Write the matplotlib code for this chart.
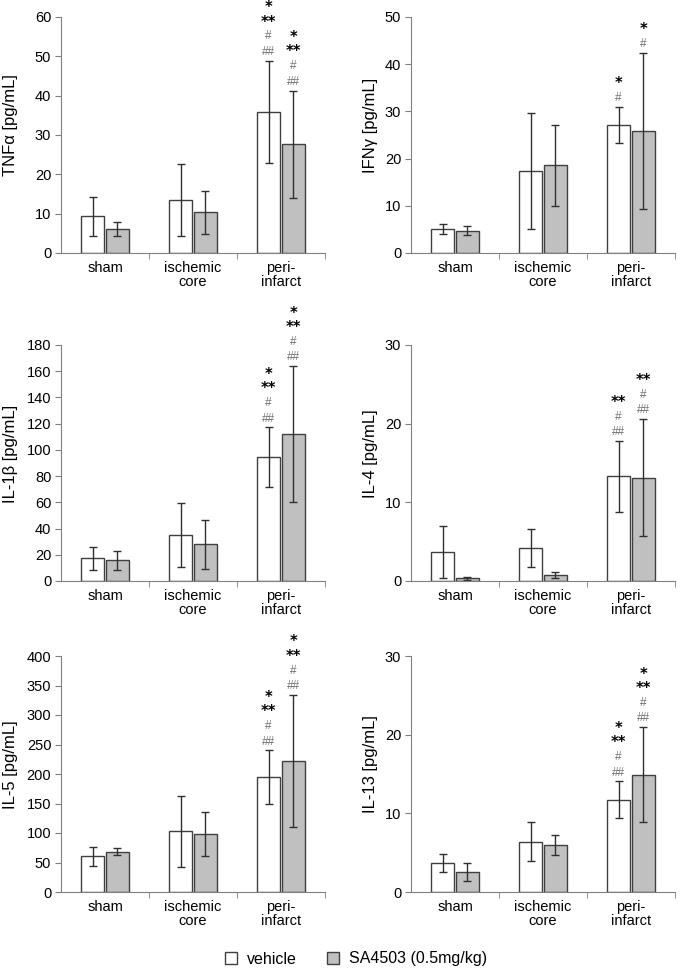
import matplotlib.pyplot as plt
from matplotlib.patches import Patch
import numpy as np

plt.rcParams['font.family'] = ['Liberation Sans', 'DejaVu Sans']

# categories and groups
categories = ["sham", "ischemic\ncore", "peri-\ninfarct"]
groups = ["vehicle", "SA4503 (0.5mg/kg)"]

# per panel: label, axis max, tick step
labels = ["TNF\u03b1 [pg/mL]", "IFN\u03b3 [pg/mL]", "IL-1\u03b2 [pg/mL]",
          "IL-4 [pg/mL]", "IL-5 [pg/mL]", "IL-13 [pg/mL]"]
ymax = [60, 50, 180, 30, 400, 30]
ystep = [10, 10, 20, 10, 50, 10]

tnf_veh = [9.3, 13.5, 35.9]
tnf_veh_err = [4.9, 9.1, 13.0]
tnf_sa = [6.1, 10.3, 27.6]
tnf_sa_err = [1.9, 5.4, 13.7]

ifn_veh = [5.1, 17.3, 27.2]
ifn_veh_err = [1.05, 12.3, 3.8]
ifn_sa = [4.7, 18.6, 25.9]
ifn_sa_err = [0.95, 8.6, 16.5]

il1b_veh = [17.3, 34.8, 94.3]
il1b_veh_err = [8.7, 24.4, 22.9]
il1b_sa = [15.8, 28.0, 111.9]
il1b_sa_err = [7.4, 18.5, 52.0]

il4_veh = [3.7, 4.2, 13.3]
il4_veh_err = [3.3, 2.4, 4.5]
il4_sa = [0.34, 0.76, 13.15]
il4_sa_err = [0.17, 0.38, 7.45]

il5_veh = [60.5, 102.8, 194.4]
il5_veh_err = [16.4, 60.5, 45.5]
il5_sa = [68.4, 98.3, 222.0]
il5_sa_err = [6.5, 37.6, 112.0]

il13_veh = [3.7, 6.4, 11.7]
il13_veh_err = [1.17, 2.45, 2.35]
il13_sa = [2.54, 5.97, 14.9]
il13_sa_err = [1.15, 1.3, 6.05]

# significance marks above the peri-infarct bars: (asterisks, hashes) for veh and SA
marks = [
    (("*\n**", "#\n##"), ("*\n**", "#\n##")),
    (("*", "#"), ("*", "#")),
    (("*\n**", "#\n##"), ("*\n**", "#\n##")),
    (("**", "#\n##"), ("**", "#\n##")),
    (("*\n**", "#\n##"), ("*\n**", "#\n##")),
    (("*\n**", "#\n##"), ("*\n**", "#\n##")),
]

panels = [
    (tnf_veh, tnf_veh_err, tnf_sa, tnf_sa_err),
    (ifn_veh, ifn_veh_err, ifn_sa, ifn_sa_err),
    (il1b_veh, il1b_veh_err, il1b_sa, il1b_sa_err),
    (il4_veh, il4_veh_err, il4_sa, il4_sa_err),
    (il5_veh, il5_veh_err, il5_sa, il5_sa_err),
    (il13_veh, il13_veh_err, il13_sa, il13_sa_err),
]

W, H = 681, 973
fig = plt.figure(figsize=(W / 100, H / 100), dpi=100)

lefts = [61, 411]
tops = [17, 345, 656]
aw, ah = 264, 236
label_x = [-0.163, -0.125]

axis_col = "#808080"
edge_col = "#404040"
x = np.arange(len(categories))
bw = 0.26
off = 0.14
ekw = dict(ecolor="#303030", elinewidth=1, capsize=3, capthick=1)

for i, (veh, veh_err, sa, sa_err) in enumerate(panels):
    r, c = divmod(i, 2)
    ax = fig.add_axes([lefts[c] / W, 1 - (tops[r] + ah) / H, aw / W, ah / H])
    ax.bar(x - off, veh, bw, yerr=veh_err, color="white", edgecolor=edge_col,
           linewidth=1, error_kw=ekw)
    ax.bar(x + off, sa, bw, yerr=sa_err, color="#c0c0c0", edgecolor=edge_col,
           linewidth=1, error_kw=ekw)

    ax.set_xlim(-0.5, 2.5)
    ax.set_ylim(0, ymax[i])
    ax.set_yticks(np.arange(0, ymax[i] + 1, ystep[i]))
    ax.set_xticks(x)
    ax.set_xticklabels(categories, va="top", linespacing=1.0)
    ax.set_xticks([0.5, 1.5, 2.5], minor=True)
    ax.tick_params(axis="x", which="major", length=0, pad=6, labelsize=10.5)
    ax.tick_params(axis="x", which="minor", length=4, color=axis_col, direction="out")
    ax.tick_params(axis="y", length=4, color=axis_col, direction="out", labelsize=10.5, pad=3)
    for s in ["top", "right"]:
        ax.spines[s].set_visible(False)
    for s in ["left", "bottom"]:
        ax.spines[s].set_color(axis_col)
    ax.set_ylabel(labels[i], fontsize=12)
    ax.yaxis.set_label_coords(label_x[c], 0.54)

    # significance marks stacked above the peri-infarct error bars
    for xpos, top, (stars, hashes) in [(2 - off, veh[2] + veh_err[2], marks[i][0]),
                                       (2 + off, sa[2] + sa_err[2], marks[i][1])]:
        h = ax.annotate(hashes, (xpos, top), xytext=(0, 2), textcoords="offset points",
                        ha="center", va="bottom", fontsize=8.5, color="#707070",
                        linespacing=1.4)
        ax.annotate(stars, (0.5, 1), xycoords=h, xytext=(0, 0.5), textcoords="offset points",
                    ha="center", va="bottom", fontsize=10.5, fontweight="bold",
                    color="black", family="DejaVu Sans", linespacing=0.95)

handles = [Patch(facecolor="white", edgecolor=edge_col, linewidth=1),
           Patch(facecolor="#c0c0c0", edgecolor=edge_col, linewidth=1)]
fig.legend(handles, groups, loc="center", bbox_to_anchor=(0.523, 1 - 959 / H), ncol=2,
           frameon=False, fontsize=11.5, handlelength=0.75, handleheight=0.75,
           handletextpad=0.6, columnspacing=1.9)

fig.savefig("out.png", dpi=100)
